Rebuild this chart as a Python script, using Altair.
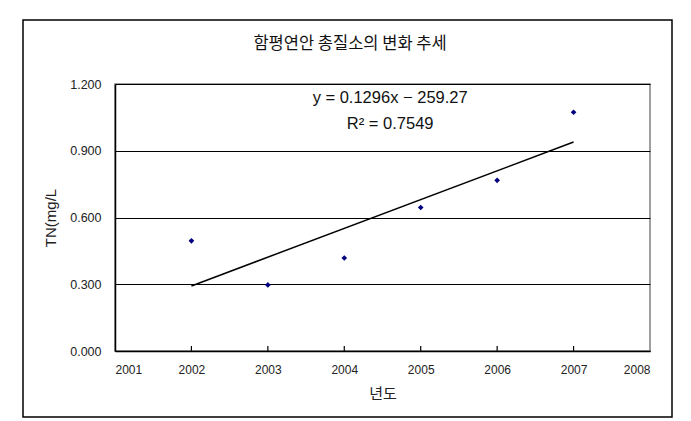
import altair as alt
import pandas as pd

years = [2002, 2003, 2004, 2005, 2006, 2007]
tn = [0.495, 0.297, 0.418, 0.645, 0.767, 1.073]
tick_years = [2002, 2003, 2004, 2005, 2006, 2007]
eq_lines = ["y = 0.1296x − 259.27", "R² = 0.7549"]
eq_y = [1.137, 1.020]

df = pd.DataFrame({"year": years, "tn": tn})
ticks = pd.DataFrame({"year": tick_years})
eq = pd.DataFrame({"label": eq_lines, "y": eq_y, "x": [2004.6, 2004.6]})

W, H = 535, 267
num_font = "Liberation Sans"
kr_font = "Noto Sans CJK KR"

xscale = alt.Scale(domain=[2001, 2008], nice=False, zero=False)
yscale = alt.Scale(domain=[0, 1.2], nice=False)

base = alt.Chart(df)

points = base.mark_point(shape="diamond", filled=True, size=32, color="#000080", opacity=1).encode(
    x=alt.X("year:Q", scale=xscale,
            axis=alt.Axis(title="년도", values=list(range(2001, 2009)), format="d",
                          ticks=False, labelFontSize=12, labelFont=num_font,
                          labelColor="#222222", labelPadding=13,
                          titleFont=kr_font, titleFontSize=15, titleFontWeight="normal",
                          titleColor="#222222", titlePadding=11,
                          domainColor="black", domainWidth=1.5, grid=False)),
    y=alt.Y("tn:Q", scale=yscale,
            axis=alt.Axis(title="TN(mg/L", values=[0, 0.3, 0.6, 0.9, 1.2], format=".3f",
                          ticks=False, labelFontSize=12.5, labelFont=num_font,
                          labelColor="#222222", labelPadding=14,
                          titleFont=num_font, titleFontSize=15, titleFontWeight="normal",
                          titleColor="#222222", titlePadding=11,
                          domainColor="black", domainWidth=1.5,
                          grid=True, gridColor="black", gridWidth=1)),
)

trend = base.transform_regression("year", "tn", method="linear").mark_line(
    color="black", strokeWidth=1.5
).encode(x=alt.X("year:Q", scale=xscale), y=alt.Y("tn:Q", scale=yscale))

tick_marks = alt.Chart(ticks).mark_rule(color="black", strokeWidth=1.2).encode(
    x=alt.X("year:Q", scale=xscale), y=alt.value(H), y2=alt.value(H - 5)
)

eq_text = alt.Chart(eq).mark_text(font=num_font, fontSize=16.5, color="#111111").encode(
    x=alt.X("x:Q", scale=xscale), y=alt.Y("y:Q", scale=yscale), text="label:N"
)

border = alt.Chart(df).mark_rect(fill=None, stroke="black", strokeWidth=1.5).encode(
    x=alt.value(-92), x2=alt.value(557), y=alt.value(-64), y2=alt.value(333)
).transform_filter("datum.year == 2002")

title_txt = alt.Chart(df).mark_text(font=kr_font, fontSize=16.5, color="#111111").encode(
    x=alt.value(235), y=alt.value(-40), text=alt.value("함평연안 총질소의 변화 추세")
).transform_filter("datum.year == 2002")

chart = alt.layer(border, title_txt, tick_marks, trend, points, eq_text).properties(
    width=W, height=H,
    autosize=alt.AutoSizeParams(type="none"),
    padding={"left": 115, "top": 84, "right": 41, "bottom": 70},
    background="white",
).configure_view(stroke="#808080", strokeWidth=1.5)

chart.save("out.html", embed_options={"renderer": "svg", "actions": False})
